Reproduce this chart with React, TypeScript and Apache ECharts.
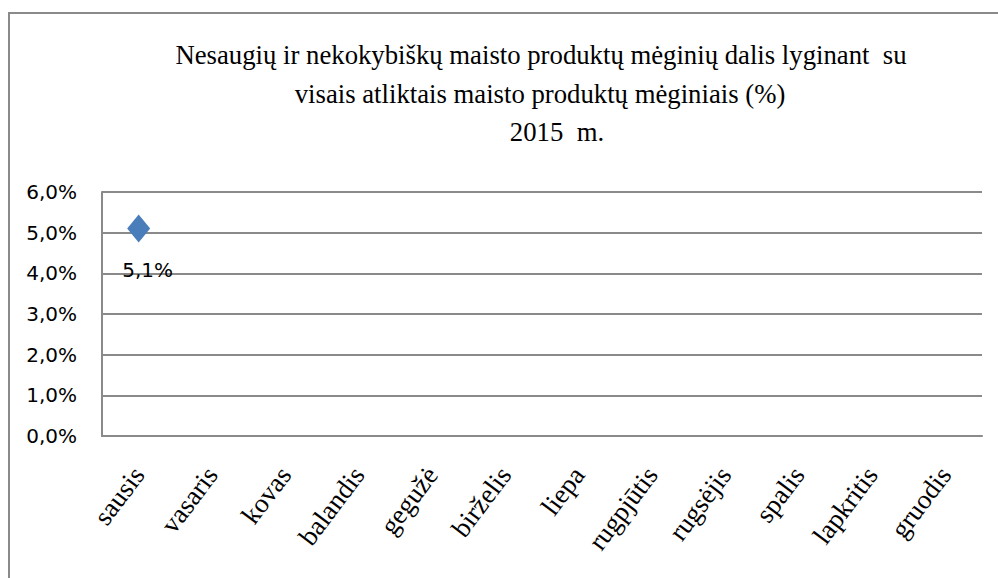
import React, { useEffect, useRef } from "react";
import * as echarts from "echarts";

const categories = ["sausis", "vasaris", "kovas", "balandis", "gegužė", "birželis", "liepa", "rugpjūtis", "rugsėjis", "spalis", "lapkritis", "gruodis"];
const values: (number | null)[] = [5.1, null, null, null, null, null, null, null, null, null, null, null];
const titleLines = [
  "Nesaugių ir nekokybiškų maisto produktų mėginių dalis lyginant  su",
  "visais atliktais maisto produktų mėginiais (%)",
  "2015  m.",
];
const yMin = 0;
const yMax = 6;
const yInterval = 1;

const fmt = (v: number) => v.toFixed(1).replace(".", ",") + "%";

export default function App() {
  const ref = useRef<HTMLDivElement>(null);
  useEffect(() => {
    if (!ref.current) return;
    const chart = echarts.init(ref.current, null, { renderer: "svg" });
    const serif = "Liberation Serif";
    const sans = "DejaVu Sans";
    const titleY = [55, 94, 132];
    const titleX = [541, 540, 557];
    chart.setOption({
      animation: false,
      backgroundColor: "#ffffff",
      grid: { left: 102, right: 16, top: 192, bottom: 142 },
      graphic: [
        {
          type: "rect",
          shape: { x: 9, y: 13, width: 1100, height: 700 },
          style: { fill: "none", stroke: "#8a8a8a", lineWidth: 2 },
          silent: true,
        },
        ...titleLines.map((t, i) => ({
          type: "text",
          x: titleX[i],
          y: titleY[i],
          scaleX: 0.99,
          style: {
            text: t,
            fontFamily: serif,
            fontSize: 27,
            fill: "#000",
            align: "center",
            verticalAlign: "middle",
          },
        })),
      ],
      xAxis: {
        type: "category",
        data: categories,
        boundaryGap: true,
        axisLine: { show: true, lineStyle: { color: "#8a8a8a", width: 2 } },
        axisTick: { show: false },
        axisLabel: {
          rotate: 53,
          margin: 34,
          interval: 0,
          fontFamily: serif,
          fontSize: 27,
          color: "#000",
        },
      },
      yAxis: {
        type: "value",
        min: yMin,
        max: yMax,
        interval: yInterval,
        axisLine: { show: true, lineStyle: { color: "#8a8a8a", width: 2 } },
        axisTick: { show: false },
        axisLabel: {
          formatter: fmt,
          margin: 25,
          fontFamily: sans,
          fontSize: 20,
          color: "#000",
        },
        splitLine: { show: true, lineStyle: { color: "#8a8a8a", width: 2 } },
      },
      series: [
        {
          type: "line",
          data: values,
          symbol: "diamond",
          symbolSize: [23, 28],
          itemStyle: { color: "#4a7ebb" },
          lineStyle: { color: "#4a7ebb", width: 2 },
          label: {
            show: true,
            position: "bottom",
            distance: 17,
            offset: [9, 0],
            formatter: (p: any) => fmt(p.value),
            fontFamily: sans,
            fontSize: 20,
            color: "#000",
          },
        },
      ],
    });
    return () => chart.dispose();
  }, []);
  return (
    <div
      ref={ref}
      style={{ position: "fixed", left: 0, top: 0, width: 998, height: 578 }}
    />
  );
}
